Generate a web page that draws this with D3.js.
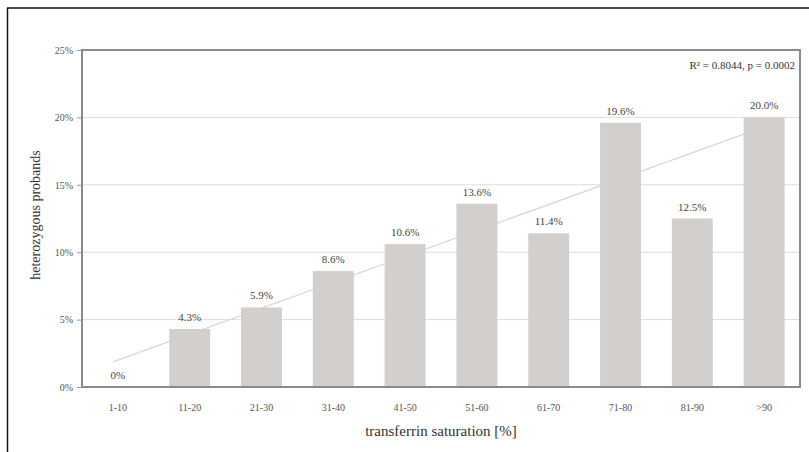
<!DOCTYPE html>
<html><head><meta charset="utf-8">
<script src="https://cdn.jsdelivr.net/npm/d3@7"></script>
<style>body{margin:0;background:#fff}svg{display:block}svg text{font-family:"Liberation Serif","DejaVu Serif",serif}</style>
</head><body><svg id="c" width="809" height="452"></svg>
<script>
const categories = ["1-10","11-20","21-30","31-40","41-50","51-60","61-70","71-80","81-90",">90"];
const values = [0, 4.3, 5.9, 8.6, 10.6, 13.6, 11.4, 19.6, 12.5, 20.0];
const valueLabels = ["0%","4.3%","5.9%","8.6%","10.6%","13.6%","11.4%","19.6%","12.5%","20.0%"];
const yTicks = [0, 5, 10, 15, 20, 25];
const statsText = "R² = 0.8044, p = 0.0002";
const xTitle = "transferrin saturation [%]";
const yTitle = "heterozygous probands";

const svg = d3.select("#c");
const m = {l: 82, r: 9, t: 50, b: 65};
const W = 809, H = 452;
const x = d3.scaleBand().domain(categories).range([m.l, W - m.r]).paddingInner(0.43).paddingOuter(0.215);
const y = d3.scaleLinear().domain([0, 25]).range([H - m.b, m.t]);

// outer border
svg.append("line").attr("x1", 7.5).attr("x2", 7.5).attr("y1", 8).attr("y2", H).attr("stroke", "#111").attr("stroke-width", 1.5);
svg.append("line").attr("x1", 7).attr("x2", W).attr("y1", 8).attr("y2", 8).attr("stroke", "#111").attr("stroke-width", 1.5);

// gridlines
svg.append("g").selectAll("line").data(yTicks.filter(d => d > 0 && d < 25)).join("line")
  .attr("x1", m.l).attr("x2", W - m.r).attr("y1", d => y(d)).attr("y2", d => y(d))
  .attr("stroke", "#dcdcdc").attr("stroke-width", 1);

// trend line (least squares on the values)
const n = values.length, xs = d3.range(1, n + 1);
const mx = d3.mean(xs), my = d3.mean(values);
const slope = d3.sum(xs, (xi, i) => (xi - mx) * (values[i] - my)) / d3.sum(xs, xi => (xi - mx) ** 2);
const icpt = my - slope * mx;
const xc = i => x(categories[i]) + x.bandwidth() / 2;
svg.append("line")
  .attr("x1", xc(0) - 5).attr("y1", y(icpt + slope * (1 - 5 / x.step())))
  .attr("x2", xc(n - 1)).attr("y2", y(icpt + slope * n))
  .attr("stroke", "#d6d6d6").attr("stroke-width", 1.2);

// bars
svg.append("g").selectAll("rect").data(values).join("rect")
  .attr("x", (d, i) => x(categories[i])).attr("width", x.bandwidth())
  .attr("y", d => y(d)).attr("height", d => y(0) - y(d))
  .attr("fill", "#d3cfcc");

// value labels
svg.append("g").selectAll("text").data(values).join("text")
  .attr("x", (d, i) => xc(i)).attr("y", d => y(d) - 8)
  .attr("text-anchor", "middle").attr("font-size", 11).attr("fill", "#444")
  .text((d, i) => valueLabels[i]);

// frame
svg.append("rect").attr("x", m.l).attr("y", m.t).attr("width", W - m.r - m.l).attr("height", H - m.b - m.t)
  .attr("fill", "none").attr("stroke", "#8a8a8a").attr("stroke-width", 2);

// y axis
const ya = d3.axisLeft(y).tickValues(yTicks).tickFormat(d => d + "%").tickSize(4).tickPadding(4);
const gy = svg.append("g").attr("transform", `translate(${m.l - 1},0)`).call(ya);
gy.select(".domain").remove();
gy.selectAll("line").attr("stroke", "#999");
gy.selectAll("text").attr("font-family", null).attr("font-size", 10).attr("fill", "#555");

// x axis
const xa = d3.axisBottom(x).tickSize(0).tickPadding(17);
const gx = svg.append("g").attr("transform", `translate(0,${H - m.b})`).call(xa);
gx.select(".domain").remove();
gx.selectAll("text").attr("font-family", null).attr("font-size", 10).attr("fill", "#555");
gy.attr("font-family", null); gx.attr("font-family", null);

// titles
svg.append("text").attr("x", 441).attr("y", 436).attr("text-anchor", "middle")
  .attr("font-size", 15).attr("fill", "#333").text(xTitle);
svg.append("text").attr("transform", "translate(40,215) rotate(-90)").attr("text-anchor", "middle")
  .attr("font-size", 14).attr("fill", "#333").text(yTitle);

svg.append("text").attr("x", 795).attr("y", 69).attr("text-anchor", "end")
  .attr("font-size", 11).attr("fill", "#333").text(statsText);
</script></body></html>
